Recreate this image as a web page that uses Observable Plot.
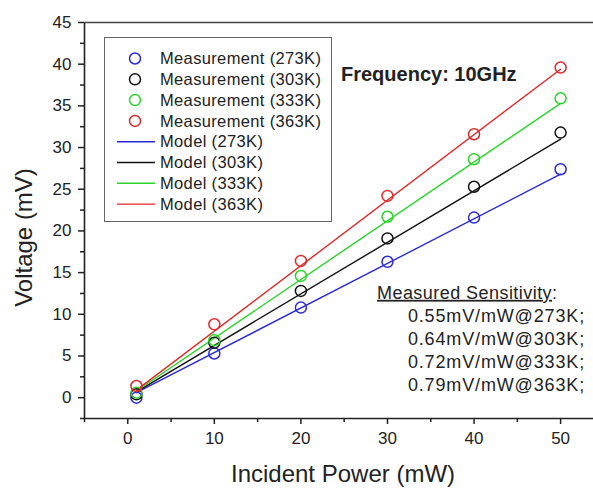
<!DOCTYPE html>
<html><head><meta charset="utf-8">
<script src="https://cdn.jsdelivr.net/npm/d3@7"></script>
<script src="https://cdn.jsdelivr.net/npm/@observablehq/plot@0.6"></script>
<style>
body{margin:0;background:#fff;}
#wrap{position:relative;width:593px;height:488px;font-family:"Liberation Sans",Arial,sans-serif;}
#wrap svg{position:absolute;left:0;top:0;overflow:visible;}
</style></head><body><div id="wrap"></div>
<script>
const temps = ["273K", "303K", "333K", "363K"];
const colors = ["#2a2ad6", "#111111", "#2ad42a", "#dd2a2a"];
const power = [1, 10, 20, 30, 40, 50];
const v273 = [0.0, 5.3, 10.8, 16.3, 21.6, 27.4];
const v303 = [0.4, 6.6, 12.8, 19.1, 25.3, 31.8];
const v333 = [0.6, 6.9, 14.6, 21.7, 28.6, 35.9];
const v363 = [1.4, 8.8, 16.4, 24.2, 31.6, 39.6];
const modelPower = [1, 50];
const m273 = [0.6, 26.8];
const m303 = [0.7, 31.0];
const m333 = [0.8, 35.3];
const m363 = [0.9, 39.4];
const sensitivity = ["0.55mV/mW@273K;", "0.64mV/mW@303K;", "0.72mV/mW@333K;", "0.79mV/mW@363K;"];
const xTicks = [0, 10, 20, 30, 40, 50];
const xMinor = [-5, 5, 15, 25, 35, 45];
const yTicks = [0, 5, 10, 15, 20, 25, 30, 35, 40, 45];
const yMinor = [-2.5, 2.5, 7.5, 12.5, 17.5, 22.5, 27.5, 32.5, 37.5, 42.5];

const measSets = [v273, v303, v333, v363];
const modelSets = [m273, m303, m333, m363];
const meas = [];
temps.forEach((t, i) => power.forEach((p, j) => meas.push({t, p, v: measSets[i][j]})));
const model = [];
temps.forEach((t, i) => modelPower.forEach((p, j) => model.push({t, p, v: modelSets[i][j]})));

const font = "Liberation Sans, Arial, sans-serif";
const chart = Plot.plot({
  width: 593, height: 488,
  marginLeft: 84, marginRight: 0, marginTop: 22, marginBottom: 70,
  style: {fontFamily: font, color: "#222", background: "#fff", overflow: "visible"},
  x: {domain: [-5, 53.8]},
  y: {domain: [-2.5, 45]},
  color: {domain: temps, range: colors},
  marks: [
    Plot.axisX({ticks: xTicks, tickSize: 6, tickPadding: 7, fontSize: 17, label: null, strokeWidth: 1.5}),
    Plot.axisX({ticks: xMinor, tickSize: 4, tickFormat: () => "", label: null, strokeWidth: 1.5}),
    Plot.axisY({ticks: yTicks, tickSize: 6, tickPadding: 7, fontSize: 17, label: null, strokeWidth: 1.5}),
    Plot.axisY({ticks: yMinor, tickSize: 4, tickFormat: () => "", label: null, strokeWidth: 1.5}),
    Plot.ruleX([-5], {strokeWidth: 1.6, stroke: "#222"}),
    Plot.ruleY([-2.5], {strokeWidth: 1.6, stroke: "#222"}),
    Plot.ruleY([45], {strokeWidth: 1.6, stroke: "#444"}),
    Plot.line(model, {x: "p", y: "v", z: "t", stroke: "t", strokeWidth: 1.4}),
    Plot.dot(meas, {x: "p", y: "v", stroke: "t", r: 5.5, strokeWidth: 1.5, fill: "none"}),
    Plot.text(["Incident Power (mW)"], {frameAnchor: "bottom", lineAnchor: "middle", textAnchor: "middle", dy: 56, dx: 4, fontSize: 24, fill: "#222"}),
    Plot.text(["Voltage (mV)"], {frameAnchor: "left", textAnchor: "middle", lineAnchor: "middle", rotate: -90, dx: -60, dy: 17, fontSize: 24, fill: "#222"})
  ]
});
const wrap = document.getElementById("wrap");
wrap.appendChild(chart);

// overlay: legend and annotations
const svg = d3.select(wrap).append("svg").attr("width", 593).attr("height", 488)
  .style("font-family", font);
svg.append("rect").attr("x", 104.5).attr("y", 37.5).attr("width", 227).attr("height", 184)
  .attr("fill", "#fff").attr("stroke", "#666").attr("stroke-width", 1);
const rowY0 = 58.5, rowStep = 20.8;
temps.forEach((t, i) => {
  const y = rowY0 + i * rowStep;
  svg.append("circle").attr("cx", 135).attr("cy", y).attr("r", 5.5)
    .attr("fill", "none").attr("stroke", colors[i]).attr("stroke-width", 1.5);
  svg.append("text").attr("x", 160).attr("y", y).attr("dy", "0.35em")
    .attr("font-size", 16.5).attr("letter-spacing", 0.35).attr("fill", "#222").text(`Measurement (${t})`);
});
temps.forEach((t, i) => {
  const y = rowY0 + (i + 4) * rowStep;
  svg.append("line").attr("x1", 117).attr("x2", 155).attr("y1", y).attr("y2", y)
    .attr("stroke", colors[i]).attr("stroke-width", 1.4);
  svg.append("text").attr("x", 160).attr("y", y).attr("dy", "0.35em")
    .attr("font-size", 16.5).attr("letter-spacing", 0.35).attr("fill", "#222").text(`Model (${t})`);
});
svg.append("text").attr("x", 341).attr("y", 73.5).attr("dy", "0.35em")
  .attr("font-size", 20).attr("font-weight", "bold").attr("fill", "#222").text("Frequency: 10GHz");
const st = svg.append("text").attr("x", 377).attr("y", 292.5).attr("dy", "0.35em")
  .attr("font-size", 18).attr("letter-spacing", 0.45).attr("fill", "#222");
st.append("tspan").attr("text-decoration", "underline").text("Measured Sensitivity");
st.append("tspan").text(":");
sensitivity.forEach((s, i) => {
  svg.append("text").attr("x", 585).attr("y", 315.5 + i * 23).attr("dy", "0.35em")
    .attr("text-anchor", "end").attr("font-size", 18).attr("letter-spacing", 0.85).attr("fill", "#222").text(s);
});
</script></body></html>
